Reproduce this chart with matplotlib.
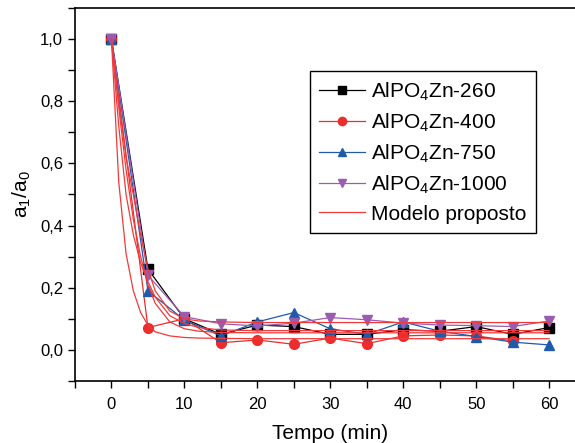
import numpy as np
import matplotlib
matplotlib.use("Agg")
import matplotlib.pyplot as plt
from matplotlib.ticker import MultipleLocator, FuncFormatter

plt.rcParams["font.family"] = ["Liberation Sans", "DejaVu Sans"]
plt.rcParams["mathtext.default"] = "regular"

# measured points
tempo = [0, 5, 10, 15, 20, 25, 30, 35, 40, 45, 50, 55, 60]
zn260 = [1.0, 0.26, 0.10, 0.05, 0.08, 0.075, 0.05, 0.05, 0.065, 0.06, 0.075, 0.05, 0.072]
tempo400 = [0, 5, 10, 15, 20, 25, 30, 35, 40, 45, 50, 55]
zn400 = [1.0, 0.072, 0.10, 0.023, 0.032, 0.018, 0.038, 0.02, 0.045, 0.048, 0.045, 0.029]
zn750 = [1.0, 0.19, 0.096, 0.045, 0.09, 0.12, 0.068, 0.05, 0.09, 0.06, 0.043, 0.025, 0.016]
zn1000 = [1.0, 0.24, 0.107, 0.084, 0.077, 0.086, 0.104, 0.097, 0.086, 0.08, 0.078, 0.075, 0.093]

# model curves
t_mod = [0, 1, 2, 3, 4, 5, 6, 8, 10, 12, 15, 20, 60]
mod260 = [1.0, 0.72, 0.50, 0.37, 0.28, 0.22, 0.17, 0.11, 0.085, 0.072, 0.064, 0.062, 0.062]
mod400 = [1.0, 0.54, 0.31, 0.19, 0.12, 0.08, 0.058, 0.045, 0.04, 0.038, 0.037, 0.036, 0.036]
mod750 = [1.0, 0.78, 0.58, 0.42, 0.30, 0.21, 0.15, 0.09, 0.068, 0.060, 0.056, 0.055, 0.055]
mod1000 = [1.0, 0.80, 0.62, 0.50, 0.37, 0.26, 0.19, 0.125, 0.10, 0.093, 0.090, 0.088, 0.088]

fig = plt.figure(figsize=(5.75, 4.43), dpi=100)
ax = fig.add_axes([0.1304, 0.14, 0.888, 0.842])

red = "#EE2C2C"
kw = dict(lw=0.9, markersize=7)
ax.plot(tempo, zn260, color="black", marker="s", label="AlPO$_4$Zn-260", **kw)
ax.plot(tempo400, zn400, color=red, marker="o", label="AlPO$_4$Zn-400", **kw)
ax.plot(tempo, zn750, color="#1F5BAA", marker="^", label="AlPO$_4$Zn-750", **kw)
ax.plot(tempo, zn1000, color="#9B5BB0", marker="v", label="AlPO$_4$Zn-1000", **kw)

for i, m in enumerate([mod260, mod400, mod750, mod1000]):
    ax.plot(t_mod, m, color="#F03A3A", lw=0.9,
            label="Modelo proposto" if i == 0 else None)

ax.set_xlim(-5, 65)
ax.set_ylim(-0.1, 1.1)
ax.xaxis.set_major_locator(MultipleLocator(10))
ax.xaxis.set_minor_locator(MultipleLocator(5))
ax.yaxis.set_major_locator(MultipleLocator(0.2))
ax.yaxis.set_minor_locator(MultipleLocator(0.1))
ax.yaxis.set_major_formatter(FuncFormatter(lambda v, p: f"{v:.1f}".replace(".", ",")))
ax.tick_params(which="both", direction="out", width=1, labelsize=12, top=False, right=False)
ax.tick_params(which="both", length=5)
ax.tick_params(axis="x", which="major", pad=6.5)
for s in ax.spines.values():
    s.set_linewidth(1.2)

ax.set_xlabel("Tempo (min)", fontsize=15, labelpad=9)
ax.set_ylabel("a$_1$/a$_0$", fontsize=15, labelpad=5)

leg = ax.legend(loc="upper left", bbox_to_anchor=(0.46, 0.831), borderaxespad=0,
                fontsize=15, fancybox=False, edgecolor="black", framealpha=1,
                handlelength=2.2, handletextpad=0.3, labelspacing=0.42,
                borderpad=0.45, markerscale=0.85)
leg.get_frame().set_linewidth(1.0)

fig.savefig("out.png", dpi=100)
